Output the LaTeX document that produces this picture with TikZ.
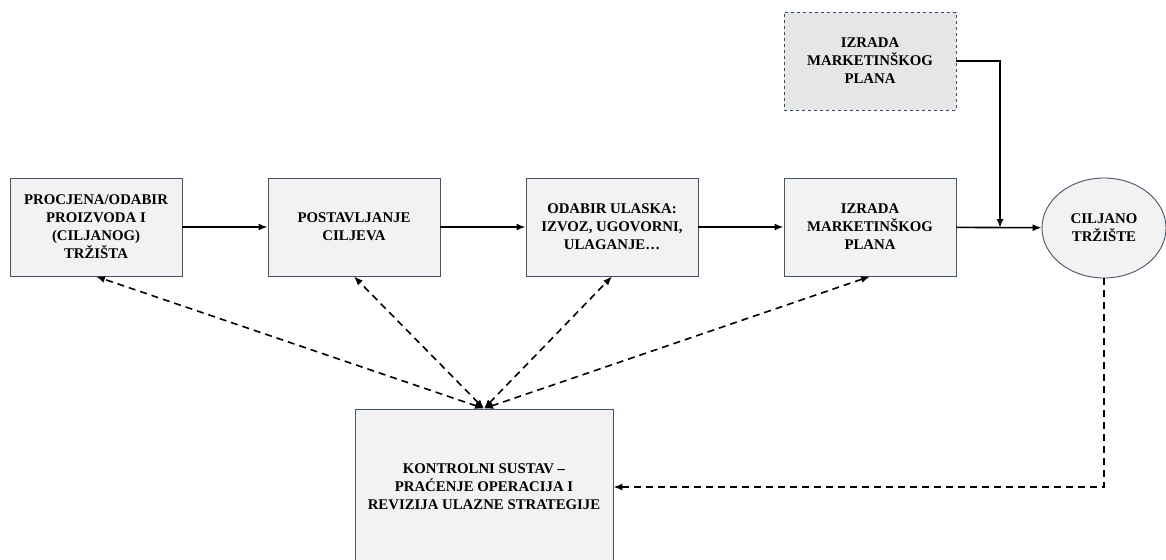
\documentclass[tikz,border=0pt]{standalone}
\usepackage{fontspec}
\setmainfont{Liberation Serif}
\usetikzlibrary{arrows.meta,shapes.geometric}
\definecolor{boxline}{HTML}{44546A}
\definecolor{boxfill}{HTML}{F2F2F2}
\definecolor{topfill}{HTML}{E7E6E6}
\definecolor{topline}{HTML}{2F4A75}
\begin{document}
\begin{tikzpicture}[x=1pt,y=-1pt,
    stage/.style={draw=boxline,line width=0.9pt,fill=boxfill,minimum width=172pt,minimum height=98pt,align=center,
      font=\fontsize{14.8}{18}\selectfont\bfseries,inner sep=2pt},
    flow/.style={line width=1.6pt,-{Latex[length=9pt,width=7pt]}},
    back/.style={line width=1.6pt,dash pattern=on 7pt off 5pt}]
    \useasboundingbox (0,0) rectangle (1166,559);
    \node[stage] (proc) at (96,227) {PROCJENA/ODABIR\\PROIZVODA I\\(CILJANOG)\\TRŽIŠTA};
    \node[stage] (cilj) at (354,227) {POSTAVLJANJE\\CILJEVA};
    \node[stage] (ulaz) at (612,227) {ODABIR ULASKA:\\IZVOZ, UGOVORNI,\\ULAGANJE…};
    \node[stage] (plan) at (870,227) {IZRADA\\MARKETINŠKOG\\PLANA};
    \node[stage,fill=topfill,draw=topline,dashed] (plantop) at (870,61) {IZRADA\\MARKETINŠKOG\\PLANA};
    \node[stage,ellipse,minimum width=124pt,minimum height=100pt] (trziste) at (1104,228) {CILJANO\\TRŽIŠTE};
    \node[stage,minimum width=258pt,minimum height=156pt] (kontrola) at (484,487) {KONTROLNI SUSTAV –\\PRAĆENJE OPERACIJA I\\REVIZIJA ULAZNE STRATEGIJE};
    \coordinate (spoj) at (1000,228);
    \draw[flow] (proc) -- (cilj);
    \draw[flow] (cilj) -- (ulaz);
    \draw[flow] (ulaz) -- (plan);
    \draw[flow] (plan) -- (trziste);
    \draw[flow] (plantop.east) -| (spoj);
    \foreach \b in {proc,cilj,ulaz,plan}
      \draw[back,{Latex[length=9pt,width=7pt]}-{Latex[length=9pt,width=7pt]}] (kontrola.north) -- (\b.south);
    \draw[back,-{Latex[length=9pt,width=7pt]}] (trziste.south) |- (kontrola.east);
\end{tikzpicture}
\end{document}
